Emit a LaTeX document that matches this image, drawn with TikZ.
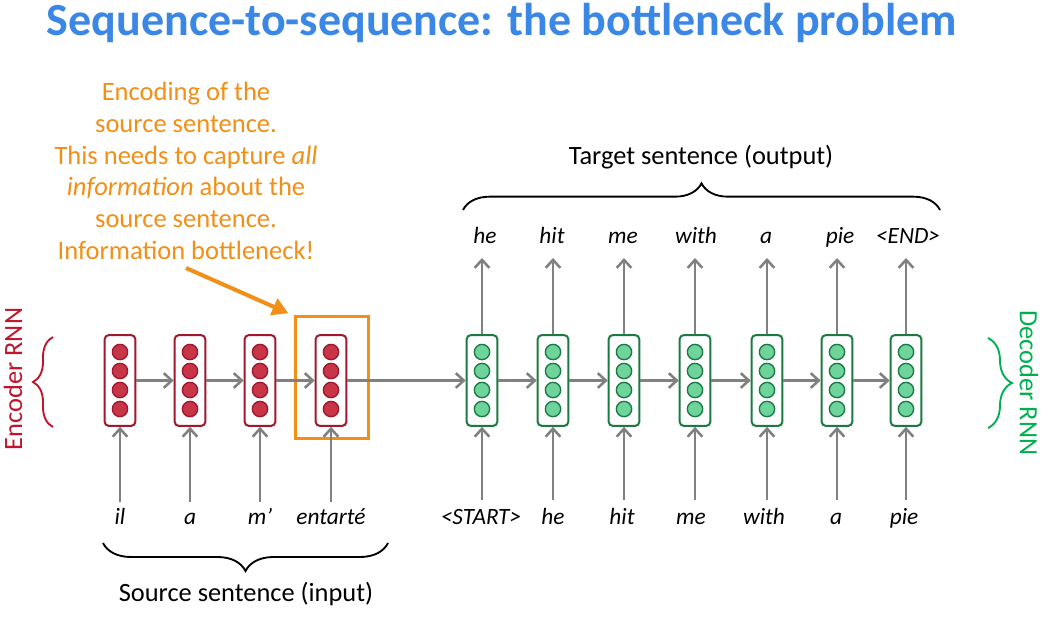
\documentclass[tikz,border=0pt]{standalone}
\usepackage{fontspec}
\setmainfont{Carlito}
\usetikzlibrary{arrows.meta,decorations.pathreplacing}
\definecolor{titleblue}{RGB}{59,135,230}
\definecolor{noteorange}{RGB}{242,143,22}
\definecolor{encred}{RGB}{160,24,44}
\definecolor{encfill}{RGB}{200,52,72}
\definecolor{encbrace}{RGB}{192,20,44}
\definecolor{decgreen}{RGB}{26,122,66}
\definecolor{decfill}{RGB}{110,212,155}
\definecolor{declabel}{RGB}{0,176,80}
\definecolor{arrgray}{RGB}{128,128,128}
\begin{document}
\begin{tikzpicture}[x=0.75pt,y=-0.75pt,
  enccell/.style={draw=encred,line width=1.5pt,fill=white,rounded corners=3pt,minimum width=23pt,minimum height=68pt,inner sep=0pt},
  deccell/.style={draw=decgreen,line width=1.5pt,fill=white,rounded corners=3pt,minimum width=23pt,minimum height=68pt,inner sep=0pt},
  enccirc/.style={circle,draw=encred,line width=1pt,fill=encfill,minimum size=11.5pt,inner sep=0pt},
  deccirc/.style={circle,draw=decgreen,line width=1pt,fill=decfill,minimum size=11.5pt,inner sep=0pt},
  arr/.style={draw=arrgray,line width=1.9pt,-{Straight Barb[length=6pt,width=11pt,line width=1.9pt]}},
  word/.style={font=\fontsize{17.5}{20}\selectfont\itshape,text height=12pt,text depth=3.5pt,inner xsep=1pt,inner ysep=4.5pt},
  lbl/.style={font=\fontsize{19.8}{23}\selectfont},
  brc/.style={decorate,line width=1.4pt},
]
\useasboundingbox[fill=white] (0,0) rectangle (1042,618);

% title
\node[font=\fontsize{34.5}{40}\selectfont\bfseries,text=titleblue] (title) at (502,23) {Sequence-to-sequence: the bottleneck problem};

% note
\node[text=noteorange,align=center,font=\fontsize{19.9}{23.8}\selectfont] (note) at (186,171)
 {Encoding of the\\ source sentence.\\ This needs to capture \textit{all}\\ \textit{information} about the\\ source sentence.\\ Information bottleneck!};

% encoder cells
\foreach \k [count=\i] in {120,190,260,331}{
  \node[enccell] (e\i) at (\k,380.5) {};
  \foreach \cy [count=\j] in {352,371,390,409}
    \node[enccirc] (e\i c\j) at (\k,\cy) {};
}
% orange box
\node[draw=noteorange,line width=2.4pt,minimum width=55pt,minimum height=92pt,inner sep=0pt] (obox) at (332,377.5) {};
\coordinate (ns) at (186,268);
\draw[noteorange,line width=3pt,-{Triangle[length=12pt,width=13pt]}] (ns) -- ([xshift=-4pt,yshift=1pt]obox.north west);

% decoder cells
\foreach \k [count=\i] in {482,553,624,695,767,837,906}{
  \node[deccell] (d\i) at (\k,380.5) {};
  \foreach \cy [count=\j] in {352,371,390,409}
    \node[deccirc] (d\i c\j) at (\k,\cy) {};
}

% horizontal arrows
\draw[arr] (e1) -- (e2);
\draw[arr] (e2) -- (e3);
\draw[arr] (e3) -- (e4);
\draw[arr] (e4.east) -- (d1.west);
\foreach \i [evaluate=\i as \n using int(\i+1)] in {1,...,6}
  \draw[arr] (d\i.east) -- (d\n.west);

% input words
\node[word] (i1) at (120,519) {il};
\node[word] (i2) at (190,519) {a};
\node[word] (i3) at (260,519) {m’};
\node[word] (i4) at (331,519) {entarté};
\foreach \i in {1,...,4} \draw[arr] (i\i.north) -- (e\i.south);

\node[word] (s1) at (481,519) {<START>};
\node[word] (s2) at (553,519) {he};
\node[word] (s3) at (622,519) {hit};
\node[word] (s4) at (691,519) {me};
\node[word] (s5) at (764,519) {with};
\node[word] (s6) at (836,519) {a};
\node[word] (s7) at (904,519) {pie};
\foreach \k [count=\i] in {482,553,624,695,767,837,906}
  \draw[arr] (\k,500) -- (d\i.south);

% output words
\node[word] (o1) at (485,238) {he};
\node[word] (o2) at (552,238) {hit};
\node[word] (o3) at (623,238) {me};
\node[word] (o4) at (696,238) {with};
\node[word] (o5) at (766,238) {a};
\node[word] (o6) at (840,238) {pie};
\node[word] (o7) at (908,238) {<END>};
\foreach \k [count=\i] in {482,553,624,695,767,837,906}
  \draw[arr] (d\i.north) -- (\k,258);

% braces
\coordinate (tbL) at (463,210);
\coordinate (tbR) at (940,210);
\draw[brc,decoration={brace,amplitude=20pt}] (tbL) -- (tbR);
\node[lbl] (tgt) at (701,157) {Target sentence (output)};

\coordinate (sbL) at (103,543);
\coordinate (sbR) at (388,543);
\draw[brc,decoration={brace,amplitude=21pt}] (sbR) -- (sbL);
\node[lbl] (src) at (246,594) {Source sentence (input)};

\coordinate (ebB) at (53,427);
\coordinate (ebT) at (53,337);
\draw[brc,encbrace,decoration={brace,amplitude=15pt}] (ebB) -- (ebT);
\node[lbl,text=encbrace,rotate=90] (encl) at (13,379) {Encoder RNN};

\coordinate (dbT) at (988,338);
\coordinate (dbB) at (988,428);
\draw[brc,declabel,decoration={brace,amplitude=18pt}] (dbT) -- (dbB);
\node[lbl,text=declabel,rotate=-90] (decl) at (1029,383) {Decoder RNN};
\end{tikzpicture}
\end{document}
